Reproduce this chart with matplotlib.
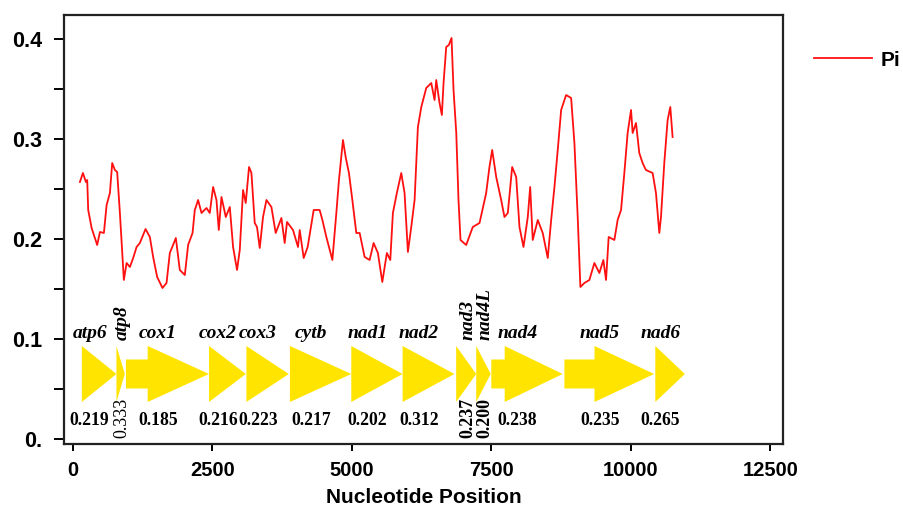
# -*- coding: utf-8 -*-

"""Sliding window nucleotide diversity (Pi) along the mitogenome."""

import matplotlib
matplotlib.use('Agg')
import matplotlib.pyplot as plt
from matplotlib.patches import Polygon
from matplotlib.ticker import MultipleLocator

# sliding window values
position = [125, 179, 233, 256, 274, 335, 435, 484, 555, 604, 663, 704, 752,
            793, 842, 913, 962, 1021, 1080, 1141, 1200, 1302, 1379, 1438,
            1510, 1606, 1678, 1737, 1845, 1916, 2006, 2065, 2144, 2185, 2244,
            2305, 2394, 2453, 2513, 2573, 2615, 2663, 2740, 2812, 2871, 2942,
            2991, 3050, 3098, 3157, 3200, 3259, 3300, 3349, 3408, 3469, 3558,
            3635, 3737, 3796, 3838, 3945, 4035, 4065, 4137, 4208, 4316, 4423,
            4472, 4543, 4651, 4722, 4769, 4841, 4889, 4948, 5009, 5080, 5140,
            5229, 5319, 5390, 5467, 5546, 5628, 5689, 5736, 5807, 5886, 5945,
            6005, 6065, 6125, 6184, 6245, 6334, 6424, 6483, 6513, 6572, 6614,
            6644, 6692, 6739, 6787, 6823, 6872, 6912, 6948, 7050, 7168, 7289,
            7408, 7467, 7516, 7588, 7677, 7736, 7796, 7874, 7946, 8005, 8077,
            8154, 8197, 8243, 8333, 8422, 8512, 8573, 8632, 8691, 8752, 8841,
            8931, 8990, 9049, 9097, 9169, 9258, 9348, 9437, 9509, 9557, 9604,
            9706, 9765, 9826, 9885, 9944, 10005, 10034, 10094, 10153, 10212,
            10272, 10392, 10452, 10512, 10542, 10601, 10661, 10709, 10750]
pi = [0.257, 0.266, 0.257, 0.259, 0.229, 0.211, 0.194, 0.207, 0.206, 0.234,
      0.246, 0.276, 0.269, 0.267, 0.226, 0.159, 0.176, 0.172, 0.181, 0.192,
      0.196, 0.210, 0.202, 0.182, 0.162, 0.151, 0.156, 0.186, 0.201, 0.169,
      0.164, 0.194, 0.206, 0.229, 0.239, 0.226, 0.231, 0.226, 0.252, 0.239,
      0.209, 0.242, 0.222, 0.232, 0.192, 0.169, 0.189, 0.249, 0.236, 0.272,
      0.266, 0.216, 0.212, 0.191, 0.222, 0.239, 0.232, 0.206, 0.221, 0.196,
      0.217, 0.209, 0.192, 0.209, 0.181, 0.192, 0.229, 0.229, 0.219, 0.202,
      0.179, 0.226, 0.259, 0.299, 0.282, 0.266, 0.239, 0.206, 0.206, 0.182,
      0.179, 0.196, 0.186, 0.157, 0.186, 0.179, 0.226, 0.246, 0.266, 0.246,
      0.187, 0.212, 0.239, 0.312, 0.332, 0.351, 0.356, 0.339, 0.359, 0.336,
      0.324, 0.356, 0.392, 0.394, 0.401, 0.349, 0.306, 0.239, 0.199, 0.194,
      0.212, 0.216, 0.246, 0.272, 0.289, 0.262, 0.239, 0.222, 0.226, 0.272,
      0.262, 0.212, 0.192, 0.222, 0.252, 0.199, 0.219, 0.206, 0.181, 0.219,
      0.252, 0.289, 0.329, 0.344, 0.341, 0.296, 0.222, 0.152, 0.156, 0.159,
      0.176, 0.166, 0.179, 0.159, 0.202, 0.199, 0.219, 0.229, 0.266, 0.306,
      0.329, 0.306, 0.316, 0.286, 0.276, 0.269, 0.266, 0.246, 0.206, 0.222,
      0.276, 0.319, 0.332, 0.302]

# protein coding genes: start, start of arrow head, end, and Pi per gene
gene_names = ['atp6', 'atp8', 'cox1', 'cox2', 'cox3', 'cytb', 'nad1', 'nad2',
              'nad3', 'nad4L', 'nad4', 'nad5', 'nad6']
gene_start = [160, 780, 950, 2440, 3110, 3890, 4990, 5910, 6870, 7230, 7500,
              8810, 10440]
gene_head = [160, 780, 1340, 2440, 3110, 3890, 4990, 5910, 6870, 7230, 7740,
             9350, 10440]
gene_end = [780, 930, 2440, 3100, 3870, 4990, 5910, 6840, 7230, 7490, 8780,
            10420, 10970]
gene_pi = ['0.219', '0.333', '0.185', '0.216', '0.223', '0.217', '0.202',
           '0.312', '0.237', '0.200', '0.238', '0.235', '0.265']

ytick_values = [0.0, 0.1, 0.2, 0.3, 0.4]
ytick_labels = ['0.', '0.1', '0.2', '0.3', '0.4']
xtick_values = [0, 2500, 5000, 7500, 10000, 12500]

sans = ['Liberation Sans', 'DejaVu Sans']
serif = ['Liberation Serif', 'DejaVu Serif']

fig = plt.figure(figsize=(9.04, 5.07), dpi=100)
ax = fig.add_axes([0.0708, 0.1243, 0.7954, 0.8461])

ax.plot(position, pi, color='#ff1010', linewidth=1.3, label='Pi')

# gene arrows
y_mid = 0.065
half_head = 0.028
half_shaft = 0.0145
for i, name in enumerate(gene_names):
    s, h, e = gene_start[i], gene_head[i], gene_end[i]
    if h > s:
        verts = [(s, y_mid - half_shaft), (h, y_mid - half_shaft),
                 (h, y_mid - half_head), (e, y_mid), (h, y_mid + half_head),
                 (h, y_mid + half_shaft), (s, y_mid + half_shaft)]
    else:
        verts = [(s, y_mid - half_head), (e, y_mid), (s, y_mid + half_head)]
    ax.add_patch(Polygon(verts, closed=True, facecolor='#ffe400',
                         edgecolor='none'))

    short = (e - s) < 400
    if short:
        # short genes get vertical labels
        x_text = (s + e) / 2 + 30
        ax.text(x_text, 0.099, name, rotation=90, ha='center', va='bottom',
                family=serif, style='italic', weight='bold', fontsize=14)
        ax.text(x_text, 0.041, gene_pi[i], rotation=90, ha='center',
                va='top', family=serif, fontsize=13, clip_on=False,
                weight='normal' if name == 'atp8' else 'bold')
    else:
        x_text = (s + e) / 2 - 170
        ax.text(x_text, 0.101, name, ha='center', va='baseline',
                family=serif, style='italic', weight='bold', fontsize=14)
        ax.text(x_text, 0.018, gene_pi[i], ha='center', va='center',
                family=serif, weight='bold', fontsize=12.7)

ax.set_xlim(-160, 12730)
ax.set_ylim(-0.005, 0.424)

ax.set_yticks(ytick_values)
ax.set_yticklabels(ytick_labels)
ax.yaxis.set_minor_locator(MultipleLocator(0.05))
ax.set_xticks(xtick_values)

for side in ['left', 'right', 'top', 'bottom']:
    ax.spines[side].set_linewidth(1.6)
    ax.spines[side].set_color('#222222')

ax.tick_params(axis='y', which='both', direction='out', length=7, width=1.4,
               pad=9, right=False)
ax.tick_params(axis='x', direction='out', length=5, width=1.4, pad=7,
               top=False)
for lab in ax.get_yticklabels():
    lab.set_family(sans)
    lab.set_weight('bold')
    lab.set_fontsize(15.5)
for lab in ax.get_xticklabels():
    lab.set_family(sans)
    lab.set_weight('bold')
    lab.set_fontsize(14.5)

ax.set_xlabel('Nucleotide Position', family=sans, weight='bold',
              fontsize=15, labelpad=6)

fig.legend(loc='upper left', bbox_to_anchor=(0.900, 0.900), frameon=False,
           borderpad=0, borderaxespad=0, handlelength=2.8, handletextpad=0.4,
           prop={'family': sans, 'weight': 'bold', 'size': 15})

fig.savefig('out.png', dpi=100)
